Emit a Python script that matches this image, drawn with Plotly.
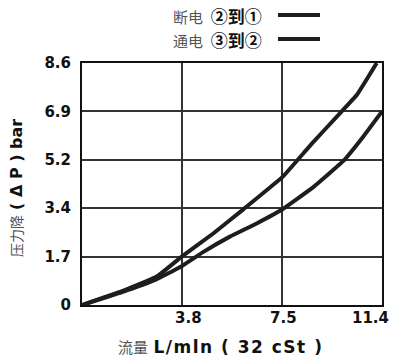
import plotly.graph_objects as go

# Data
flow_a = [0, 1.5, 2.84, 3.79, 5.0, 6.13, 7.63, 8.7, 9.8, 10.44, 11.2]
dp_a = [0, 0.48, 1.01, 1.72, 2.55, 3.40, 4.56, 5.7, 6.81, 7.46, 8.6]
flow_b = [0, 1.5, 2.8, 3.72, 4.6, 5.62, 6.64, 7.63, 8.8, 9.93, 10.7, 11.4]
dp_b = [0, 0.45, 0.9, 1.34, 1.88, 2.43, 2.9, 3.41, 4.2, 5.12, 6.0, 6.88]
x_tick_vals = [3.8, 7.6, 11.4]
x_tick_text = ["3.8", "7.5", "11.4"]
y_tick_vals = [0, 1.72, 3.44, 5.16, 6.88, 8.6]
y_tick_text = ["0", "1.7", "3.4", "5.2", "6.9", "8.6"]
legend_names = ["断电 ②到①", "通电 ③到②"]

LINE = "#1e1e1e"
fig = go.Figure()
fig.add_trace(go.Scatter(x=flow_a, y=dp_a, mode="lines", name=legend_names[0],
                         line=dict(color=LINE, width=4, shape="spline", smoothing=0.3)))
fig.add_trace(go.Scatter(x=flow_b, y=dp_b, mode="lines", name=legend_names[1],
                         line=dict(color=LINE, width=4, shape="spline", smoothing=0.3)))

W, H = 395, 357
L, R, T, B = 82, 13, 63, 52
pw, ph = W - L - R, H - T - B

def px(x):
    return (x - L) / pw

def py(y):
    return (H - B - y) / ph

tickfont = dict(family="DejaVu Sans", size=15, color="#111", weight="bold")
fig.update_layout(
    width=W, height=H, margin=dict(l=L, r=R, t=T, b=B, autoexpand=False),
    paper_bgcolor="white", plot_bgcolor="white", showlegend=False,
    xaxis=dict(range=[0, 11.4], tickvals=x_tick_vals, showticklabels=False,
               showgrid=True, gridcolor="#333", gridwidth=1.5, zeroline=False,
               showline=True, linecolor="#111", linewidth=2, mirror=True,
               ticks="", automargin=False),
    yaxis=dict(range=[0, 8.6], tickvals=y_tick_vals, ticktext=y_tick_text,
               showgrid=True, gridcolor="#333", gridwidth=1.5, zeroline=False,
               showline=True, linecolor="#111", linewidth=2, mirror=True,
               tickfont=tickfont, ticks="", ticklabelstandoff=6, automargin=False),
)

# x tick labels (from the tick arrays), placed under the gridlines
anchors = ["center", "center", "right"]
shifts = [6, 1, 9]
for v, t, a, s in zip(x_tick_vals, x_tick_text, anchors, shifts):
    fig.add_annotation(xref="x", yref="paper", x=v, y=py(318), xanchor=a, yanchor="middle",
                       xshift=s, showarrow=False, text=t, font=tickfont)

# y axis title
fig.add_annotation(xref="paper", yref="paper", x=px(16), y=py(188), xanchor="center", yanchor="middle",
                   textangle=-90, showarrow=False,
                   text="<span style='color:#555;font-weight:normal;font-size:14px'>压力降</span> <b>( Δ P ) bar</b>",
                   font=dict(family="DejaVu Sans, Noto Sans CJK SC", size=16, color="#111"))

# x axis title
fig.add_annotation(xref="paper", yref="paper", x=px(220), y=py(347), xanchor="center", yanchor="middle",
                   showarrow=False,
                   text="<span style='color:#555;font-size:15px'>流量</span> <b style='letter-spacing:1.5px'>L/mln ( 32 cSt )</b>",
                   font=dict(family="DejaVu Sans, Noto Sans CJK SC", size=17, color="#111"))

rows_y = [15, 39]
for name, yy in zip(legend_names, rows_y):
    word, code = name.split(" ")
    fig.add_annotation(xref="paper", yref="paper", x=px(264), y=py(yy), xanchor="right", yanchor="middle",
                       showarrow=False,
                       text=f"<span style='color:#555;font-size:15px'>{word}</span>  <b>{code}</b>",
                       font=dict(family="Noto Sans CJK SC", size=17, color="#111"))
    fig.add_shape(type="line", xref="paper", yref="paper", x0=px(278), x1=px(320), y0=py(yy), y1=py(yy),
                  line=dict(color=LINE, width=4))

fig.write_html("out.html", config={"displayModeBar": False},
               post_script="document.body.style.margin='0';document.body.style.overflow='hidden';")
